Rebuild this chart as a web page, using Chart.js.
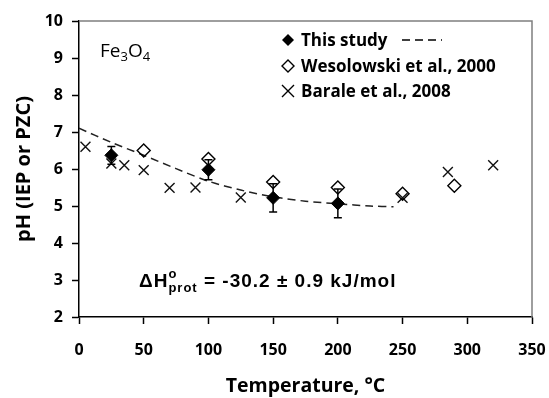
<!DOCTYPE html>
<html>
<head>
<meta charset="utf-8">
<script src="https://cdn.jsdelivr.net/npm/chart.js@4"></script>
<style>
  html, body { margin: 0; padding: 0; background: #fff; }
  #wrap { width: 549px; height: 398px; }
</style>
</head>
<body>
<div id="wrap"><canvas id="iep-chart" width="549" height="398"></canvas></div>
<script>
// Fe3O4 IEP/PZC vs temperature

const studyT = [25, 100, 150, 200];
const studyPH = [6.37, 5.98, 5.22, 5.07];
const studyErr = [0.24, 0.27, 0.38, 0.39];

const wesT = [50, 100, 150, 200, 250, 290];
const wesPH = [6.5, 6.27, 5.65, 5.5, 5.33, 5.55];

const baraleT = [5, 25, 35, 50, 70, 90, 125, 250, 285, 320];
const baralePH = [6.6, 6.15, 6.1, 5.97, 5.49, 5.5, 5.23, 5.22, 5.92, 6.1];

// dashed fit
const fitT = [0, 25, 50, 75, 100, 125, 150, 175, 200, 225, 243];
const fitPH = [7.1, 6.72, 6.37, 6.01, 5.67, 5.43, 5.25, 5.13, 5.06, 5.0, 4.98];

const seriesLabels = ["This study", "Wesolowski et al., 2000", "Barale et al., 2008"];

const FONT = "'Open Sans', sans-serif";
const ARIAL = "'Liberation Sans', Arial, sans-serif";
const INK = "#000";

const toXY = (xs, ys) => xs.map((x, i) => ({ x, y: ys[i] }));

const errorBars = {
  id: "errorBars",
  beforeDatasetDraw(chart, args) {
    if (args.index !== 1) return;
    const { ctx, scales } = chart;
    ctx.save();
    ctx.strokeStyle = INK;
    ctx.lineWidth = 1.5;
    studyT.forEach((t, i) => {
      const x = scales.x.getPixelForValue(t);
      const y1 = scales.y.getPixelForValue(studyPH[i] - studyErr[i]);
      const y2 = scales.y.getPixelForValue(studyPH[i] + studyErr[i]);
      ctx.beginPath();
      ctx.moveTo(x, y1); ctx.lineTo(x, y2);
      ctx.moveTo(x - 4, y1); ctx.lineTo(x + 4, y1);
      ctx.moveTo(x - 4, y2); ctx.lineTo(x + 4, y2);
      ctx.stroke();
    });
    ctx.restore();
  },
};

const frame = {
  id: "frame",
  afterDraw(chart) {
    const { ctx, chartArea: a } = chart;
    ctx.save();
    ctx.strokeStyle = "#7f7f7f";
    ctx.lineWidth = 1.5;
    ctx.beginPath();
    ctx.moveTo(a.left, a.top);
    ctx.lineTo(a.right, a.top);
    ctx.lineTo(a.right, a.bottom);
    ctx.stroke();
    ctx.restore();
  },
};

function marker(ctx, kind, x, y, r) {
  ctx.beginPath();
  if (kind === "cross") {
    ctx.moveTo(x - r, y - r); ctx.lineTo(x + r, y + r);
    ctx.moveTo(x + r, y - r); ctx.lineTo(x - r, y + r);
    ctx.stroke();
    return;
  }
  ctx.moveTo(x, y - r); ctx.lineTo(x + r, y); ctx.lineTo(x, y + r); ctx.lineTo(x - r, y);
  ctx.closePath();
  if (kind === "filled") ctx.fill(); else ctx.stroke();
}

const annotations = {
  id: "annotations",
  afterDraw(chart) {
    const { ctx } = chart;
    ctx.save();
    ctx.fillStyle = INK;
    ctx.strokeStyle = INK;
    ctx.lineWidth = 1.4;

    // legend
    const kinds = ["filled", "open", "cross"];
    const rows = [40, 66, 91];
    ctx.font = `bold 17px ${FONT}`;
    ctx.textBaseline = "middle";
    seriesLabels.forEach((lab, i) => {
      marker(ctx, kinds[i], 288, rows[i], 6);
      ctx.fillText(lab, 301, rows[i] + 1);
    });
    ctx.setLineDash([8, 5]);
    ctx.lineWidth = 1.5;
    ctx.beginPath();
    ctx.moveTo(402, 40); ctx.lineTo(442, 40);
    ctx.stroke();
    ctx.setLineDash([]);

    // Fe3O4 label
    ctx.textBaseline = "alphabetic";
    let x = 100;
    const base = 57;
    const parts = [["Fe", 19, 0], ["3", 13, 4], ["O", 19, 0], ["4", 13, 4]];
    parts.forEach(([t, size, dy]) => {
      ctx.font = `${size}px ${FONT}`;
      ctx.fillText(t, x, base + dy);
      x += ctx.measureText(t).width;
    });

    // enthalpy note
    ctx.letterSpacing = "1px";
    x = 139;
    const nb = 287;
    const note = [
      ["\u0394H", `bold 19px ${ARIAL}`, 0],
      ["o", `bold 13px ${ARIAL}`, -9],
      ["prot", `bold 13px ${ARIAL}`, 5],
      [" = -30.2 \u00b1 0.9 kJ/mol", `bold 19px ${ARIAL}`, 0],
    ];
    note.forEach(([t, f, dy], i) => {
      ctx.font = f;
      if (i === 2) x -= ctx.measureText("o").width;
      ctx.fillText(t, x, nb + dy);
      x += ctx.measureText(t).width;
    });
    ctx.restore();
  },
};

const axisTicks = {
  color: INK,
  font: { family: FONT, size: 16, weight: "bold" },
};

new Chart(document.getElementById("iep-chart").getContext("2d"), {
  type: "scatter",
  data: {
    datasets: [
      {
        label: "fit",
        type: "line",
        data: toXY(fitT, fitPH),
        borderColor: "#222",
        borderWidth: 1.5,
        borderDash: [8, 5],
        pointRadius: 0,
        fill: false,
        tension: 0.3,
        order: 4,
      },
      {
        label: seriesLabels[0],
        data: toXY(studyT, studyPH),
        pointStyle: "rectRot",
        pointRadius: 6.5,
        backgroundColor: INK,
        borderColor: INK,
        borderWidth: 1,
        order: 1,
      },
      {
        label: seriesLabels[1],
        data: toXY(wesT, wesPH),
        pointStyle: "rectRot",
        pointRadius: 6.5,
        backgroundColor: "rgba(255,255,255,0)",
        borderColor: INK,
        borderWidth: 1.4,
        order: 2,
      },
      {
        label: seriesLabels[2],
        data: toXY(baraleT, baralePH),
        pointStyle: "crossRot",
        pointRadius: 7,
        borderColor: "#111",
        borderWidth: 1.4,
        order: 3,
      },
    ],
  },
  options: {
    responsive: false,
    animation: false,
    devicePixelRatio: 1,
    layout: { padding: { top: 21, right: 0, left: 0, bottom: 0 } },
    plugins: { legend: { display: false }, tooltip: { enabled: false } },
    scales: {
      x: {
        type: "linear",
        min: 0,
        max: 350,
        ticks: { ...axisTicks, stepSize: 50, padding: 17 },
        grid: { drawOnChartArea: false, tickLength: 7, tickColor: INK, tickWidth: 1.5 },
        border: { color: INK, width: 1.5 },
        title: {
          display: true,
          text: "Temperature, \u00b0C",
          color: INK,
          font: { family: FONT, size: 19.5, weight: "bold" },
          padding: { top: 0, bottom: 0 },
        },
        afterFit(s) {
          s.height = 81;
          s.paddingLeft = 0;
          s.paddingRight = 17;
        },
      },
      y: {
        min: 2,
        max: 10,
        ticks: { ...axisTicks, stepSize: 1, padding: 9 },
        grid: { drawOnChartArea: false, tickLength: 7, tickColor: INK, tickWidth: 1.5 },
        border: { color: INK, width: 1.5 },
        title: {
          display: true,
          text: "pH (IEP or PZC)",
          color: INK,
          font: { family: FONT, size: 20, weight: "bold" },
          padding: { top: 12, bottom: 0 },
        },
        afterFit(s) { s.width = 79; },
      },
    },
  },
  plugins: [errorBars, frame, annotations],
});
</script>
</body>
</html>
